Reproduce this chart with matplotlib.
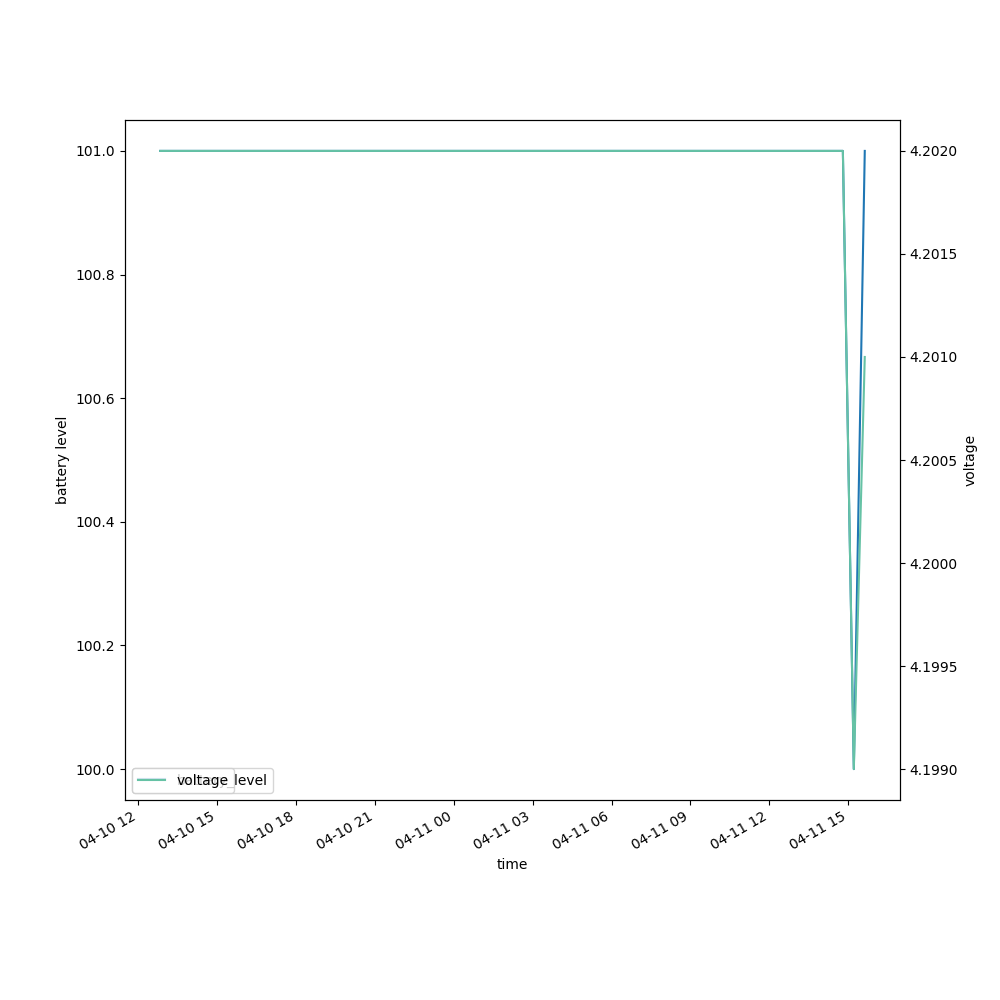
import matplotlib
matplotlib.use("Agg")
import matplotlib.pyplot as plt
import pandas as pd

times = pd.to_datetime([
    "2024-04-10 12:50",
    "2024-04-11 14:48",
    "2024-04-11 15:13",
    "2024-04-11 15:38",
])
battery_level = [101, 101, 100, 101]
voltage = [4.202, 4.202, 4.199, 4.201]

fig, ax1 = plt.subplots(figsize=(10, 10), dpi=100)
ax1.plot(times, battery_level, color="#1f77b4", label="battery_level")
ax1.set_xlabel("time")
ax1.set_ylabel("battery level")
ax1.legend(loc="lower left")

ax2 = ax1.twinx()
ax2.plot(times, voltage, color="#66c2a5", label="voltage")
ax2.set_ylabel("voltage")
ax2.legend(loc="lower left")

fig.autofmt_xdate()
fig.savefig("out.png")
